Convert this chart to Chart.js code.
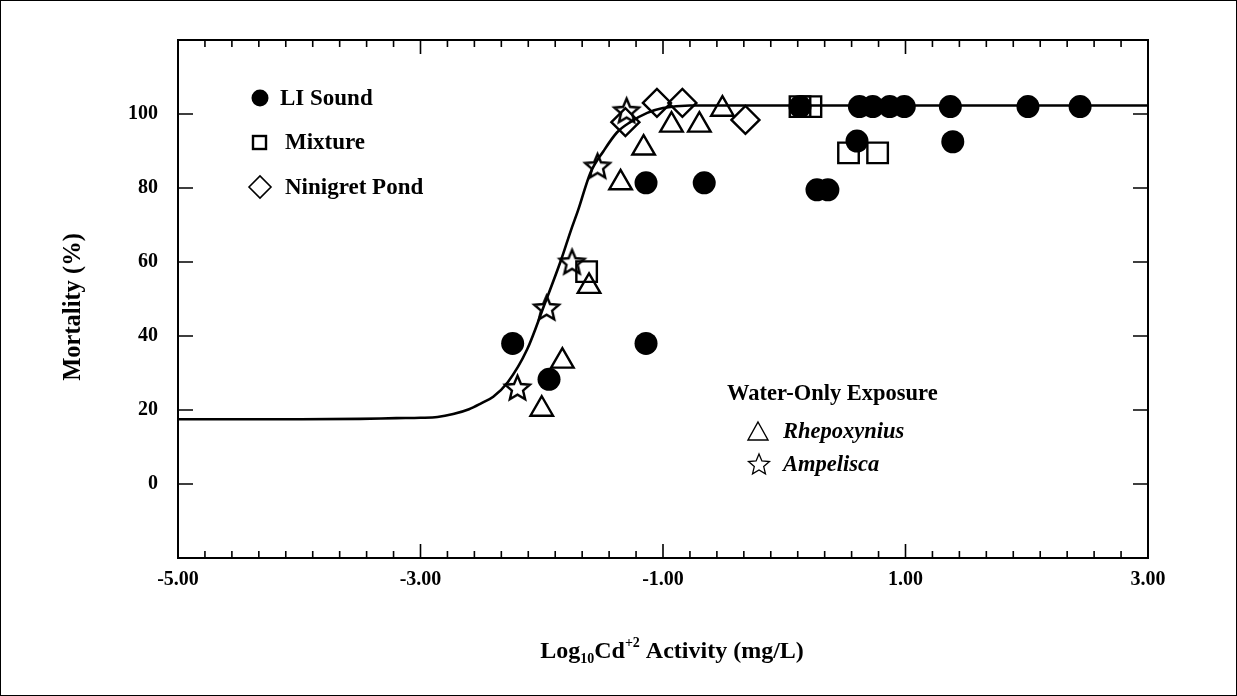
<!DOCTYPE html>
<html>
<head>
<meta charset="utf-8">
<script src="https://cdn.jsdelivr.net/npm/chart.js"></script>
<style>
  html, body { margin: 0; padding: 0; background: #fff; }
  canvas { display: block; }
</style>
</head>
<body>
<canvas id="mortalidad" width="1237" height="696"></canvas>
<script>
// ticks
const xTicks = [-5, -3, -1, 1, 3];
const yTicks = [0, 20, 40, 60, 80, 100];
const xMinorPorIntervalo = 8;

// LI Sound (circulos negros)
const liSoundX = [-2.24, -1.94, -1.14, -1.14, -0.66, 0.13, 0.27, 0.36, 0.60, 0.62, 0.73, 0.87, 0.99, 1.39, 1.37, 2.01, 2.44];
const liSoundY = [38, 28.3, 38, 81.4, 81.4, 102, 79.5, 79.5, 92.7, 102, 102, 102, 102, 92.5, 102, 102, 102];

// Mixture (cuadrados)
const mixtureX = [-1.63, 0.13, 0.22, 0.53, 0.77];
const mixtureY = [57.4, 102, 102, 89.5, 89.5];

// Ninigret Pond (rombos)
const ninigretX = [-1.31, -1.05, -0.84, -0.32];
const ninigretY = [97.8, 103, 103, 98.4];

// Water-only: Rhepoxynius (triangulos)
const rhepoxyniusX = [-2.0, -1.83, -1.61, -1.35, -1.16, -0.93, -0.70, -0.51];
const rhepoxyniusY = [20.2, 33.2, 53.4, 81.4, 90.8, 97, 97, 101.3];

// Water-only: Ampelisca (estrellas)
const ampeliscaX = [-2.20, -1.96, -1.75, -1.54, -1.30];
const ampeliscaY = [26.1, 47.7, 60.1, 86, 101];

// curva ajustada
const curvaX = [-5, -4, -3.5, -3.2, -3.0, -2.86, -2.73, -2.6, -2.5, -2.4, -2.28, -2.12, -1.98, -1.84, -1.76, -1.70, -1.60, -1.49, -1.38, -1.27, -1.13, -1.0, -0.78, -0.5, 0, 1, 2, 3];
const curvaY = [17.5, 17.5, 17.6, 17.8, 17.9, 18.1, 18.9, 20.2, 21.8, 23.6, 27.5, 36.4, 48.3, 60.6, 68.5, 74, 84, 90, 95, 97.8, 100.3, 101.6, 102.3, 102.3, 102.3, 102.3, 102.3, 102.3];

const fuente = '"Liberation Serif", "Times New Roman", serif';

function puntos(xs, ys) {
    return xs.map((x, i) => ({ x: x, y: ys[i] }));
}

function trazoEstrella(g, cx, cy, r) {
    g.beginPath();
    for (let i = 0; i < 10; i++) {
        const rad = i % 2 === 0 ? r : r * 0.45;
        const a = -Math.PI / 2 + i * Math.PI / 5;
        const px = cx + Math.cos(a) * rad;
        const py = cy + Math.sin(a) * rad;
        if (i === 0) g.moveTo(px, py); else g.lineTo(px, py);
    }
    g.closePath();
}

function imagenEstrella(r, lw) {
    const size = Math.ceil(r * 2 + lw * 2 + 4);
    const c = document.createElement('canvas');
    c.width = size;
    c.height = size;
    const g = c.getContext('2d');
    trazoEstrella(g, size / 2, size / 2 + r * 0.1, r);
    g.lineWidth = lw;
    g.lineJoin = 'miter';
    g.strokeStyle = '#000';
    g.stroke();
    return c;
}

const estrella = imagenEstrella(13, 2.4);

// marco, ticks hacia dentro, leyendas y titulos
const marco = {
    id: 'marco',
    beforeDraw(chart) {
        const ctx = chart.ctx;
        ctx.save();
        ctx.fillStyle = '#fff';
        ctx.fillRect(0, 0, chart.width, chart.height);
        ctx.strokeStyle = '#000';
        ctx.lineWidth = 1;
        ctx.strokeRect(0.5, 0.5, chart.width - 1, chart.height - 1);
        ctx.restore();
    },
    beforeDatasetsDraw(chart) {
        const ctx = chart.ctx;
        const a = chart.chartArea;
        const sx = chart.scales.x;
        const sy = chart.scales.y;
        ctx.save();
        ctx.strokeStyle = '#000';
        ctx.lineWidth = 2;
        ctx.strokeRect(a.left, a.top, a.right - a.left, a.bottom - a.top);

        ctx.lineWidth = 1.6;
        ctx.beginPath();
        for (let i = 0; i < xTicks.length; i++) {
            const px = sx.getPixelForValue(xTicks[i]);
            ctx.moveTo(px, a.bottom); ctx.lineTo(px, a.bottom - 14);
            ctx.moveTo(px, a.top); ctx.lineTo(px, a.top + 14);
            if (i < xTicks.length - 1) {
                const paso = (xTicks[i + 1] - xTicks[i]) / (xMinorPorIntervalo + 1);
                for (let k = 1; k <= xMinorPorIntervalo; k++) {
                    const pm = sx.getPixelForValue(xTicks[i] + k * paso);
                    ctx.moveTo(pm, a.bottom); ctx.lineTo(pm, a.bottom - 7);
                    ctx.moveTo(pm, a.top); ctx.lineTo(pm, a.top + 7);
                }
            }
        }
        yTicks.forEach(v => {
            const py = sy.getPixelForValue(v);
            ctx.moveTo(a.left, py); ctx.lineTo(a.left + 15, py);
            ctx.moveTo(a.right, py); ctx.lineTo(a.right - 15, py);
        });
        ctx.stroke();
        ctx.restore();
    },
    afterDraw(chart) {
        const ctx = chart.ctx;
        const a = chart.chartArea;
        ctx.save();
        ctx.fillStyle = '#000';
        ctx.strokeStyle = '#000';
        ctx.textBaseline = 'middle';
        ctx.textAlign = 'left';

        // leyenda 1
        ctx.font = 'bold 23px ' + fuente;
        ctx.beginPath();
        ctx.arc(260, 98, 8.5, 0, Math.PI * 2);
        ctx.fill();
        ctx.fillText('LI Sound', 280, 99);

        ctx.lineWidth = 2.4;
        ctx.strokeRect(253, 136, 13, 13);
        ctx.fillText('Mixture', 285, 143);

        ctx.lineWidth = 1.6;
        ctx.beginPath();
        ctx.moveTo(249, 187); ctx.lineTo(260, 176); ctx.lineTo(271, 187); ctx.lineTo(260, 198);
        ctx.closePath();
        ctx.stroke();
        ctx.fillText('Ninigret Pond', 285, 188);

        // leyenda 2
        ctx.font = 'bold 22.5px ' + fuente;
        ctx.fillText('Water-Only Exposure', 727, 394);
        ctx.lineWidth = 1.4;
        ctx.beginPath();
        ctx.moveTo(758, 422); ctx.lineTo(768, 440); ctx.lineTo(748, 440);
        ctx.closePath();
        ctx.stroke();
        trazoEstrella(ctx, 759, 465, 11);
        ctx.lineWidth = 1.3;
        ctx.stroke();
        ctx.font = 'italic bold 22.5px ' + fuente;
        ctx.fillText('Rhepoxynius', 783, 432);
        ctx.fillText('Ampelisca', 783, 465);

        // titulo eje y
        ctx.font = 'bold 24.5px ' + fuente;
        ctx.save();
        ctx.translate(74, 307);
        ctx.rotate(-Math.PI / 2);
        ctx.textAlign = 'center';
        ctx.fillText('Mortality (%)', 0, 0);
        ctx.restore();

        // titulo eje x con subindice y superindice
        const partes = [
            { t: 'Log', s: 24, dy: 0 },
            { t: '10', s: 14, dy: 5 },
            { t: 'Cd', s: 24, dy: 0 },
            { t: '+2', s: 14, dy: -11 },
            { t: ' Activity (mg/L)', s: 24, dy: 0 }
        ];
        let total = 0;
        partes.forEach(p => {
            ctx.font = 'bold ' + p.s + 'px ' + fuente;
            p.w = ctx.measureText(p.t).width;
            total += p.w;
        });
        let x0 = (a.left + a.right) / 2 + 9 - total / 2;
        ctx.textBaseline = 'alphabetic';
        partes.forEach(p => {
            ctx.font = 'bold ' + p.s + 'px ' + fuente;
            ctx.fillText(p.t, x0, 658 + p.dy);
            x0 += p.w;
        });
        ctx.restore();
    }
};

const ctx = document.getElementById('mortalidad').getContext('2d');
const grafica = new Chart(ctx, {
    type: 'scatter',
    data: {
        datasets: [
            {
                label: 'LI Sound',
                data: puntos(liSoundX, liSoundY),
                pointStyle: 'circle',
                pointRadius: 11.5,
                backgroundColor: '#000',
                borderColor: '#000',
                borderWidth: 0
            },
            {
                label: 'Mixture',
                data: puntos(mixtureX, mixtureY),
                pointStyle: 'rect',
                pointRadius: 14.5,
                backgroundColor: 'rgba(0,0,0,0)',
                borderColor: '#000',
                borderWidth: 2.4
            },
            {
                label: 'Ninigret Pond',
                data: puntos(ninigretX, ninigretY),
                pointStyle: 'rectRot',
                pointRadius: 14,
                backgroundColor: 'rgba(0,0,0,0)',
                borderColor: '#000',
                borderWidth: 2.4
            },
            {
                label: 'Rhepoxynius',
                data: puntos(rhepoxyniusX, rhepoxyniusY),
                pointStyle: 'triangle',
                pointRadius: 13,
                backgroundColor: 'rgba(0,0,0,0)',
                borderColor: '#000',
                borderWidth: 2.4
            },
            {
                label: 'Ampelisca',
                data: puntos(ampeliscaX, ampeliscaY),
                pointStyle: estrella,
                pointRadius: 13,
                backgroundColor: 'rgba(0,0,0,0)',
                borderColor: '#000'
            },
            {
                label: 'curva',
                data: puntos(curvaX, curvaY),
                showLine: true,
                pointRadius: 0,
                borderColor: '#000',
                borderWidth: 2.6,
                cubicInterpolationMode: 'monotone',
                fill: false
            }
        ]
    },
    options: {
        responsive: false,
        animation: false,
        devicePixelRatio: 1,
        layout: {
            padding: { top: 40, right: 89, left: 0, bottom: 0 }
        },
        scales: {
            x: {
                type: 'linear',
                min: -5,
                max: 3,
                afterFit: s => { s.height = 138; },
                afterBuildTicks: s => { s.ticks = xTicks.map(v => ({ value: v })); },
                grid: { display: false, drawTicks: false },
                border: { display: false },
                ticks: {
                    padding: 10,
                    color: '#000',
                    maxRotation: 0,
                    autoSkip: false,
                    font: { family: fuente, size: 20, weight: 'bold' },
                    callback: v => v.toFixed(2)
                }
            },
            y: {
                type: 'linear',
                min: -20,
                max: 120,
                afterFit: s => { s.width = 178; },
                afterBuildTicks: s => { s.ticks = yTicks.map(v => ({ value: v })); },
                grid: { display: false, drawTicks: false },
                border: { display: false },
                ticks: {
                    padding: 20,
                    color: '#000',
                    autoSkip: false,
                    font: { family: fuente, size: 20, weight: 'bold' },
                    callback: v => String(v)
                }
            }
        },
        plugins: {
            legend: { display: false },
            tooltip: { enabled: false }
        }
    },
    plugins: [marco]
});
</script>
</body>
</html>
